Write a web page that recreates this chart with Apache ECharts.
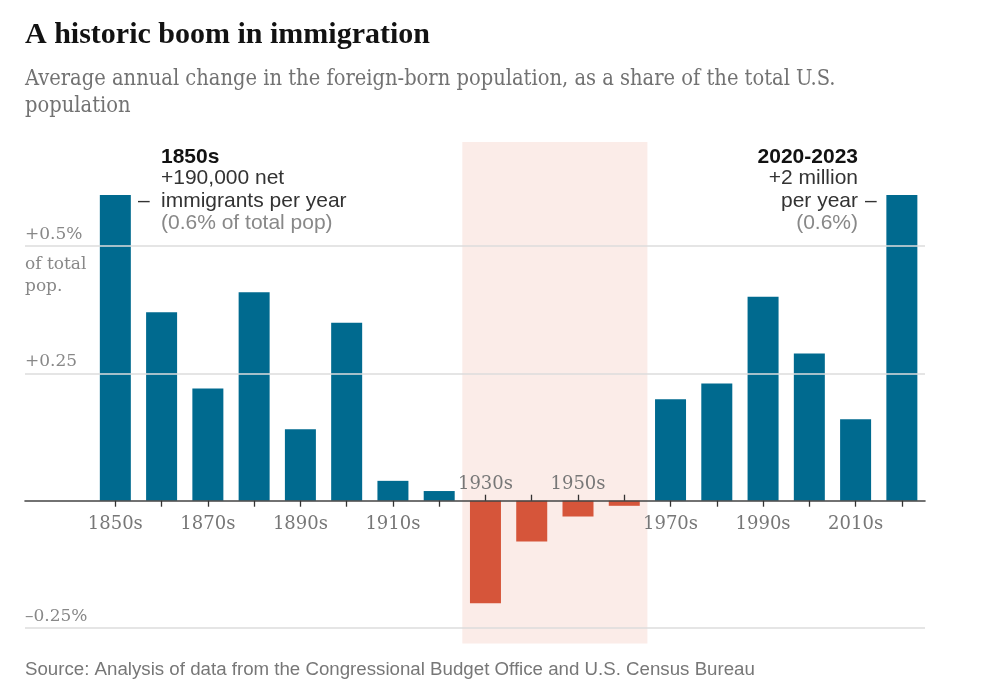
<!DOCTYPE html>
<html>
<head>
<meta charset="utf-8">
<title>A historic boom in immigration</title>
<script src="https://cdn.jsdelivr.net/npm/echarts@6/dist/echarts.min.js"></script>
<style>
  html, body { margin: 0; padding: 0; background: #fff; }
  #chart { width: 988px; height: 687px; }
</style>
</head>
<body>
<div id="chart"></div>
<script>
// decades and average annual change in foreign-born pop, % of total pop
var decades = ['1850s', '1860s', '1870s', '1880s', '1890s', '1900s', '1910s', '1920s', '1930s',
    '1940s', '1950s', '1960s', '1970s', '1980s', '1990s', '2000s', '2010s', '2020s'];
var shareChange = [0.600, 0.370, 0.220, 0.409, 0.140, 0.349, 0.039, 0.019, -0.201,
    -0.080, -0.031, -0.010, 0.199, 0.230, 0.400, 0.289, 0.160, 0.600];

// labels under the axis and the two that sit above it
var labelsBelow = ['1850s', '1870s', '1890s', '1910s', '1970s', '1990s', '2010s'];
var labelsAbove = ['1930s', '1950s'];

// horizontal rules and their labels
var ruleValues = [0.5, 0.25, -0.25];
var ruleLabels = ['+0.5%', '+0.25', '\u20130.25%'];

// "population shrank" band: 1930s to 1960s
var shrankDecades = ['1930s', '1940s', '1950s', '1960s'];
var shadeTop = 0.704;
var shadeBottom = -0.28;

var yMin = -0.3;
var yMax = 0.75;

var BLUE = '#006a8f';
var RED = '#d6553a';
var SERIF = '"DejaVu Serif", serif';
var SANS = '"Liberation Sans", Arial, sans-serif';

function inShrank(i) {
    return shrankDecades.indexOf(decades[i]) >= 0;
}

function showChart() {
    var chart = echarts.init(document.getElementById('chart'), null, { renderer: 'canvas' });
    var gridTop = 118.5;
    var gridBottom = 33.4;
    var plotHeight = 687 - gridTop - gridBottom;
    // distance of the zero line from the top / bottom of the plot
    var zeroFromTop = plotHeight * yMax / (yMax - yMin);
    var zeroFromBottom = plotHeight - zeroFromTop;
    var firstShrank = decades.indexOf(shrankDecades[0]);
    var lastShrank = decades.indexOf(shrankDecades[shrankDecades.length - 1]);

    var zeroLine = { color: '#444', width: 1.6 };
    var tickStyle = { color: '#333', width: 1.3 };

    chart.setOption({
        animation: false,
        grid: [
            { left: 25, right: 63, top: gridTop, bottom: gridBottom },
            { left: 92.2, right: 63, top: gridTop, bottom: gridBottom }
        ],
        xAxis: [
            {
                // full-width zero line
                gridIndex: 0,
                type: 'value',
                min: 0,
                max: 1,
                z: 10,
                axisLine: { show: true, onZero: true, onZeroAxisIndex: 0, lineStyle: zeroLine },
                axisTick: { show: false },
                axisLabel: { show: false },
                splitLine: { show: false }
            },
            {
                gridIndex: 1,
                type: 'category',
                data: decades,
                position: 'bottom',
                offset: -zeroFromBottom,
                z: 10,
                axisLine: { show: false, onZero: false },
                axisTick: {
                    show: true,
                    alignWithLabel: true,
                    length: 6,
                    lineStyle: tickStyle,
                    interval: function (i) { return !inShrank(i); }
                },
                axisLabel: {
                    interval: 0,
                    margin: 15,
                    color: '#777',
                    fontFamily: SERIF,
                    fontSize: 18,
                    formatter: function (v) { return labelsBelow.indexOf(v) >= 0 ? v : ''; }
                },
                splitLine: { show: false }
            },
            {
                gridIndex: 1,
                type: 'category',
                data: decades,
                position: 'top',
                offset: -zeroFromTop,
                z: 10,
                axisLine: { show: false, onZero: false },
                axisTick: {
                    show: true,
                    alignWithLabel: true,
                    length: 6,
                    lineStyle: tickStyle,
                    interval: function (i) { return inShrank(i); }
                },
                axisLabel: {
                    interval: 0,
                    margin: 7,
                    color: '#777',
                    fontFamily: SERIF,
                    fontSize: 18,
                    formatter: function (v) { return labelsAbove.indexOf(v) >= 0 ? v : ''; }
                },
                splitLine: { show: false }
            },
            {
                // band-edge scale for the shaded area
                gridIndex: 1,
                type: 'value',
                min: 0,
                max: decades.length,
                show: false
            }
        ],
        yAxis: [
            { gridIndex: 0, type: 'value', min: yMin, max: yMax, show: false },
            { gridIndex: 1, type: 'value', min: yMin, max: yMax, show: false }
        ],
        series: [
            {
                name: 'shrank',
                type: 'line',
                xAxisIndex: 3,
                yAxisIndex: 1,
                data: [],
                z: 1,
                markArea: {
                    silent: true,
                    itemStyle: { color: '#fbece8' },
                    data: [[
                        { xAxis: firstShrank, yAxis: shadeTop },
                        { xAxis: lastShrank + 1, yAxis: shadeBottom }
                    ]]
                }
            },
            {
                name: 'rules',
                type: 'line',
                xAxisIndex: 0,
                yAxisIndex: 0,
                data: [],
                z: 2,
                markLine: {
                    silent: true,
                    symbol: 'none',
                    lineStyle: { color: '#dcdcdc', type: 'solid', width: 1.6 },
                    label: {
                        position: 'insideStartTop',
                        distance: [0, 3],
                        color: '#888',
                        fontFamily: SERIF,
                        fontSize: 17
                    },
                    data: ruleValues.map(function (v, i) {
                        return { yAxis: v, label: { formatter: ruleLabels[i] } };
                    })
                }
            },
            {
                name: 'change',
                type: 'bar',
                xAxisIndex: 1,
                yAxisIndex: 1,
                barWidth: 31,
                z: 4,
                data: shareChange.map(function (v) {
                    return { value: v, itemStyle: { color: v < 0 ? RED : BLUE } };
                })
            }
        ],
        graphic: [
            { type: 'text', left: 25, top: 20, style: { text: 'A historic boom in immigration', fill: '#121212', font: 'bold 30px "Liberation Serif", serif' } },
            { type: 'text', left: 25, top: 68, style: { text: 'Average annual change in the foreign-born population, as a share of the total U.S.', fill: '#727272', font: '21.7px "DejaVu Serif Condensed", "DejaVu Serif", serif' } },
            { type: 'text', left: 25, top: 95, style: { text: 'population', fill: '#727272', font: '21.7px "DejaVu Serif Condensed", "DejaVu Serif", serif' } },

            { type: 'text', left: 25, top: 254, style: { text: 'of total\npop.', fill: '#888', font: '17px ' + SERIF, lineHeight: 22 } },

            { type: 'text', left: 161, top: 147, style: { text: '1850s', fill: '#121212', font: 'bold 21px ' + SANS } },
            { type: 'text', left: 161, top: 168, style: { text: '+190,000 net', fill: '#333', font: '21px ' + SANS } },
            { type: 'text', left: 161, top: 190.5, style: { text: 'immigrants per year', fill: '#333', font: '21px ' + SANS } },
            { type: 'text', left: 138, top: 190.5, style: { text: '\u2013', fill: '#333', font: '21px ' + SANS } },
            { type: 'text', left: 161, top: 213, style: { text: '(0.6% of total pop)', fill: '#888', font: '21px ' + SANS } },

            { type: 'text', right: 130, top: 147, style: { text: '2020-2023', fill: '#121212', font: 'bold 21px ' + SANS } },
            { type: 'text', right: 130, top: 168, style: { text: '+2 million', fill: '#333', font: '21px ' + SANS } },
            { type: 'text', right: 130, top: 190.5, style: { text: 'per year', fill: '#333', font: '21px ' + SANS } },
            { type: 'text', left: 865, top: 190.5, style: { text: '\u2013', fill: '#333', font: '21px ' + SANS } },
            { type: 'text', right: 130, top: 213, style: { text: '(0.6%)', fill: '#888', font: '21px ' + SANS } },

            { type: 'text', left: 470, top: 280, style: { text: 'Foreign-born\npopulation\nshrank', fill: '#121212', font: '20px ' + SANS, lineHeight: 22.5 } },

            { type: 'text', left: 25, top: 660, style: { text: 'Source: Analysis of data from the Congressional Budget Office and U.S. Census Bureau', fill: '#777', font: '18.7px "Liberation Sans Narrow", ' + SANS } }
        ]
    });
}

showChart();
</script>
</body>
</html>
